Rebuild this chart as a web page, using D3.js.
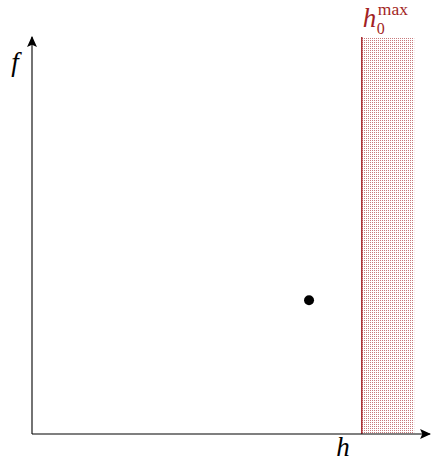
<!DOCTYPE html>
<html>
<head>
<meta charset="utf-8">
<script src="https://cdn.jsdelivr.net/npm/d3@7"></script>
<style>
  body { margin: 0; background: #fff; }
  text { font-family: "Liberation Serif", "DejaVu Serif", serif; }
</style>
</head>
<body>
<div id="chart"></div>
<script>
// data
const hMax = [8.5];            // h0^max boundary
const shadeEnd = [9.85];       // right end of shaded band
const points = [{ h: 7.14, f: 3.37 }];
const axisLabels = ["h", "f"];

const width = 437;
const height = 462;
const darkRed = "#a31f24";

const svg = d3.select("#chart")
  .append("svg")
  .attr("width", width)
  .attr("height", height);

const x = d3.scaleLinear().domain([0, 10]).range([32, 420]);
const y = d3.scaleLinear().domain([0, 10]).range([434, 37]);

// dotted fill pattern
const defs = svg.append("defs");
const pat = defs.append("pattern")
  .attr("id", "dots")
  .attr("patternUnits", "userSpaceOnUse")
  .attr("width", 2)
  .attr("height", 2);
pat.append("rect")
  .attr("x", 0).attr("y", 0)
  .attr("width", 1).attr("height", 1)
  .attr("fill", darkRed)
  .attr("fill-opacity", 0.6);

const ymaxVal = 10;

// shaded region
svg.append("rect")
  .attr("x", x(hMax[0]))
  .attr("y", y(ymaxVal))
  .attr("width", x(shadeEnd[0]) - x(hMax[0]))
  .attr("height", y(0) - y(ymaxVal))
  .attr("fill", "url(#dots)");

// boundary line
svg.append("line")
  .attr("x1", x(hMax[0])).attr("x2", x(hMax[0]))
  .attr("y1", y(ymaxVal)).attr("y2", y(0))
  .attr("stroke", darkRed)
  .attr("stroke-width", 1.4);

// axes with arrows
defs.append("marker")
  .attr("id", "arrow")
  .attr("viewBox", "0 0 10 10")
  .attr("refX", 9).attr("refY", 5)
  .attr("markerWidth", 11).attr("markerHeight", 11)
  .attr("markerUnits", "userSpaceOnUse")
  .attr("orient", "auto")
  .append("path")
  .attr("d", "M0,0.5 L10,5 L0,9.5 L2,5 Z")
  .attr("fill", "#000");

svg.append("line")
  .attr("x1", x(0)).attr("y1", y(0))
  .attr("x2", 430).attr("y2", y(0))
  .attr("stroke", "#000").attr("stroke-width", 1.1)
  .attr("marker-end", "url(#arrow)");

svg.append("line")
  .attr("x1", x(0)).attr("y1", y(0))
  .attr("x2", x(0)).attr("y2", 37)
  .attr("stroke", "#000").attr("stroke-width", 1.1)
  .attr("marker-end", "url(#arrow)");

// point
svg.selectAll(".pt")
  .data(points)
  .enter()
  .append("circle")
  .attr("class", "pt")
  .attr("cx", d => x(d.h))
  .attr("cy", d => y(d.f))
  .attr("r", 5)
  .attr("fill", "#000");

// labels
svg.append("text")
  .attr("x", 343).attr("y", 456)
  .attr("text-anchor", "middle")
  .attr("font-size", 27)
  .attr("font-style", "italic")
  .text(axisLabels[0]);

svg.append("text")
  .attr("x", 15).attr("y", 71)
  .attr("text-anchor", "middle")
  .attr("font-size", 27)
  .attr("font-style", "italic")
  .text(axisLabels[1]);

svg.append("text")
  .attr("x", x(hMax[0]) + 1)
  .attr("y", 27)
  .attr("fill", darkRed)
  .attr("font-size", 27)
  .attr("font-style", "italic")
  .text("h");
svg.append("text")
  .attr("x", x(hMax[0]) + 15)
  .attr("y", 34)
  .attr("fill", darkRed)
  .attr("font-size", 16)
  .text("0");
svg.append("text")
  .attr("x", x(hMax[0]) + 16)
  .attr("y", 15)
  .attr("fill", darkRed)
  .attr("font-size", 17.5)
  .text("max");
</script>
</body>
</html>
